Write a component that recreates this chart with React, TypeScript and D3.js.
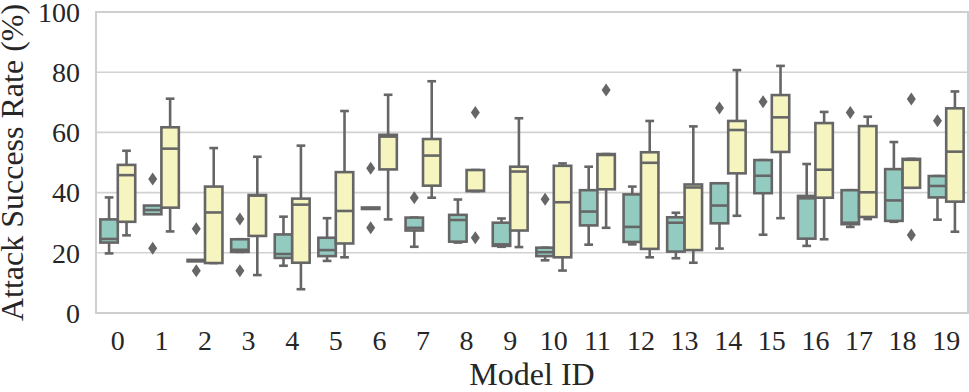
import React from 'react';
import * as d3 from 'd3';

// model ids on the x axis
const models = d3.range(20).map(String);
const yTicks = [0, 20, 40, 60, 80, 100];
const hues = ['a', 'b'];

// first hue (teal) box stats
const tealLow = [19.8, 34.2, 17.4, 20.3, 15.7, 17.3, 34.8, 22.0, 23.4, 22.0, 17.5, 22.7, 22.8, 18.2, 21.4, 26.0, 22.3, 28.6, 30.3, 31.0];
const tealQ1 = [23.4, 32.8, 17.4, 20.3, 18.3, 18.9, 34.8, 27.4, 23.7, 22.3, 18.9, 29.1, 23.6, 20.4, 29.8, 39.8, 24.7, 29.5, 30.6, 38.4];
const tealMed = [24.6, 34.2, 17.4, 21.0, 19.6, 20.9, 34.8, 28.3, 30.9, 22.8, 20.2, 33.7, 28.6, 30.0, 35.7, 45.6, 38.1, 30.0, 37.4, 42.2];
const tealQ3 = [31.1, 35.7, 17.4, 24.5, 26.1, 25.0, 34.8, 31.7, 32.6, 30.0, 21.7, 40.8, 39.4, 31.8, 43.1, 50.8, 38.9, 40.8, 47.8, 45.5];
const tealHigh = [38.4, 34.2, 17.4, 24.5, 32.0, 31.5, 34.8, 31.7, 37.7, 31.4, 21.7, 48.6, 42.0, 33.3, 43.1, 50.8, 49.5, 40.8, 56.8, 45.5];
const tealOut = [[], [44.5, 21.5], [28.0, 14.0], [31.2, 14.0], [], [], [48.1, 28.3], [38.3], [], [], [37.8], [], [], [], [68.1], [70.2], [], [66.6], [], [63.9]];

// second hue (yellow) box stats
const yellowLow = [25.8, 27.1, 16.6, 12.6, 7.9, 18.5, 31.1, 38.3, 40.5, 21.9, 14.1, 28.3, 18.5, 16.7, 32.3, 31.5, 24.5, 31.2, 41.6, 27.0];
const yellowQ1 = [30.3, 35.0, 16.6, 25.6, 16.7, 23.1, 47.7, 42.3, 40.5, 27.4, 18.5, 41.1, 21.3, 20.9, 46.4, 53.5, 38.3, 31.9, 41.6, 37.0];
const yellowMed = [45.8, 54.6, 33.4, 39.0, 36.0, 33.9, 58.6, 52.3, 40.6, 47.0, 36.8, 52.5, 49.9, 41.7, 60.8, 65.0, 47.6, 40.1, 50.9, 53.6];
const yellowQ3 = [49.2, 61.7, 42.0, 39.2, 38.0, 46.8, 59.2, 57.8, 47.5, 48.6, 48.9, 52.8, 53.4, 42.7, 63.8, 72.4, 63.1, 62.1, 51.2, 68.0];
const yellowHigh = [53.9, 71.2, 54.8, 51.9, 55.6, 67.1, 72.5, 77.0, 47.5, 64.7, 49.7, 52.8, 63.8, 62.0, 80.7, 82.1, 66.8, 65.2, 51.2, 73.6];
const yellowOut = [[], [], [], [], [], [], [], [], [66.6, 25.0], [], [], [74.1], [], [], [], [], [], [], [71.1, 25.9], []];

const colors = { a: '#93cbc1', b: '#f6f5bf' };
const edge = '#666666';
const font = '"Liberation Serif", "Times New Roman", serif';

const W = 969;
const H = 392;
const left = 96;
const right = 968;
const top = 12;
const bottom = 313;

export default function App() {
  const x = d3.scaleBand().domain(models).range([left, right]);
  const bw = x.bandwidth();
  const hx = d3.scaleBand().domain(hues).range([0, bw * 0.8]);
  const boxW = hx.bandwidth();
  const y = d3.scaleLinear().domain([0, 100]).range([bottom, top]);

  const series = [
    { key: 'a', low: tealLow, q1: tealQ1, med: tealMed, q3: tealQ3, high: tealHigh, out: tealOut },
    { key: 'b', low: yellowLow, q1: yellowQ1, med: yellowMed, q3: yellowQ3, high: yellowHigh, out: yellowOut },
  ];

  const diamond = (cx: number, cy: number) =>
    `M${cx},${cy - 6.5}L${cx + 4.5},${cy}L${cx},${cy + 6.5}L${cx - 4.5},${cy}Z`;

  return (
    <svg width={W} height={H} style={{ position: 'absolute', left: 0, top: 0 }}>
      <rect x={0} y={0} width={W} height={H} fill="#fff" />
      {/* grid */}
      {yTicks.map(t => (
        <line key={t} x1={left} x2={right} y1={y(t)} y2={y(t)} stroke="#d2d2d2" strokeWidth={1.6} />
      ))}
      <rect x={left} y={top} width={right - left} height={bottom - top} fill="none" stroke="#cfcfcf" strokeWidth={2} />

      {series.map(s =>
        models.map((m, i) => {
          const x0 = (x(m) as number) + bw * 0.1 + (hx(s.key) as number);
          const cx = x0 + boxW / 2;
          const capHalf = boxW / 4;
          const yTop = y(s.q3[i]);
          const hgt = y(s.q1[i]) - yTop;
          return (
            <g key={s.key + m} stroke={edge} strokeWidth={2.6}>
              <line x1={cx} x2={cx} y1={y(s.q3[i])} y2={y(s.high[i])} />
              <line x1={cx} x2={cx} y1={y(s.q1[i])} y2={y(s.low[i])} />
              <line x1={cx - capHalf} x2={cx + capHalf} y1={y(s.high[i])} y2={y(s.high[i])} />
              <line x1={cx - capHalf} x2={cx + capHalf} y1={y(s.low[i])} y2={y(s.low[i])} />
              <rect
                x={x0}
                y={hgt < 1.5 ? yTop - 0.75 : yTop}
                width={boxW}
                height={Math.max(1.5, hgt)}
                fill={colors[s.key as 'a' | 'b']}
              />
              <line x1={x0} x2={x0 + boxW} y1={y(s.med[i])} y2={y(s.med[i])} />
              {s.out[i].map((v, j) => (
                <path key={j} d={diamond(cx, y(v))} fill={edge} stroke="none" />
              ))}
            </g>
          );
        })
      )}

      {/* y ticks */}
      {yTicks.map(t => (
        <text key={t} x={left - 16} y={y(t)} dy="0.35em" textAnchor="end" fontFamily={font} fontSize={28} fill="#262626">
          {t}
        </text>
      ))}
      {/* x ticks */}
      {models.map(m => (
        <text key={m} x={(x(m) as number) + bw / 2} y={350} textAnchor="middle" fontFamily={font} fontSize={28} fill="#262626">
          {m}
        </text>
      ))}
      <text x={(left + right) / 2} y={385} textAnchor="middle" fontFamily={font} fontSize={32} fill="#262626">
        Model ID
      </text>
      <text
        transform={`translate(23,${(top + bottom) / 2}) rotate(-90)`}
        textAnchor="middle"
        fontFamily={font}
        fontSize={32}
        fill="#262626"
      >
        Attack Success Rate (%)
      </text>
    </svg>
  );
}
